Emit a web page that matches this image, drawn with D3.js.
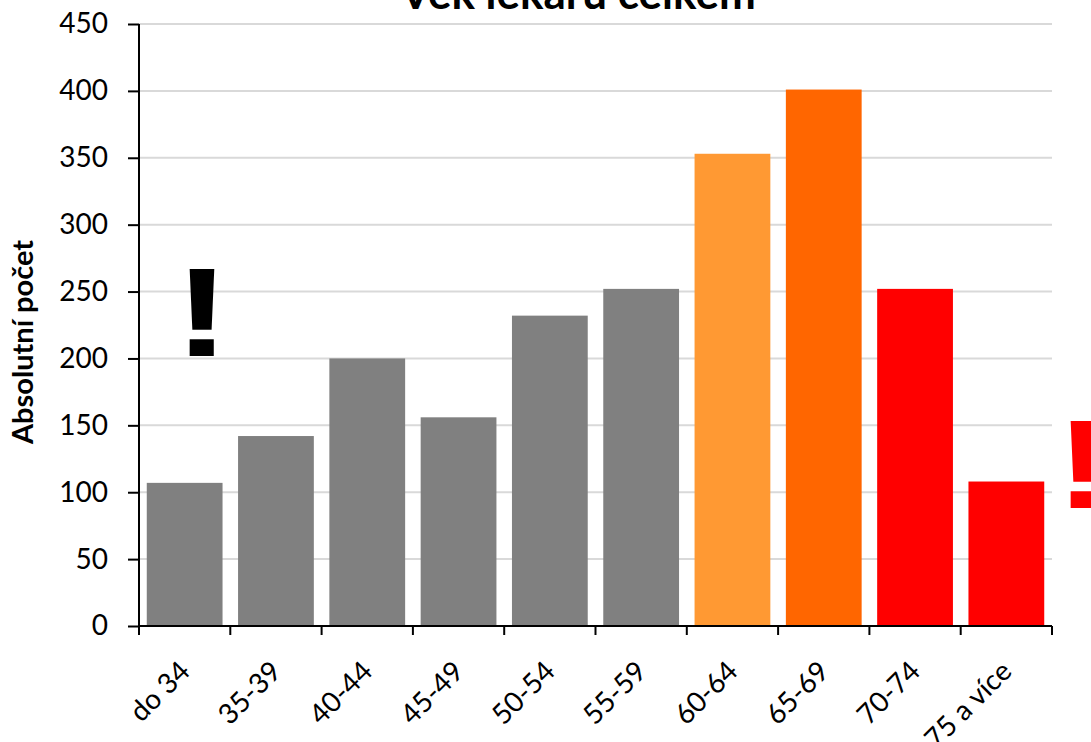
<!DOCTYPE html>
<html>
<head>
<meta charset="utf-8">
<script src="https://cdn.jsdelivr.net/npm/d3@7"></script>
<style>
  html, body { margin: 0; padding: 0; background: #fff; }
  svg { display: block; font-family: Lato, "Open Sans", sans-serif; }
</style>
</head>
<body>
<svg id="chart" width="1091" height="742"></svg>
<script>
// Age groups of physicians and their absolute counts
const categories = ["do 34", "35-39", "40-44", "45-49", "50-54", "55-59", "60-64", "65-69", "70-74", "75 a více"];
const counts = [107, 142, 200, 156, 232, 252, 353, 401, 252, 108];
const barColors = ["#808080", "#808080", "#808080", "#808080", "#808080", "#808080", "#FF9933", "#FF6600", "#FF0000", "#FF0000"];
const yTicks = [0, 50, 100, 150, 200, 250, 300, 350, 400, 450];

const titleText = "Věk lékařů celkem";
const yTitle = "Absolutní počet";

const svg = d3.select("#chart");
const margin = { top: 24, right: 39, bottom: 116, left: 139 };
const width = 1091, height = 742;
const innerW = width - margin.left - margin.right;
const innerH = height - margin.top - margin.bottom;

const g = svg.append("g").attr("transform", `translate(${margin.left},${margin.top})`);

const x = d3.scaleBand().domain(categories).range([0, innerW]).paddingInner(0.17).paddingOuter(0.085);
const y = d3.scaleLinear().domain([0, 450]).range([innerH, 0]);

// Horizontal gridlines
g.append("g").selectAll("line").data(yTicks.filter(t => t > 0)).join("line")
  .attr("x1", 0).attr("x2", innerW)
  .attr("y1", d => y(d)).attr("y2", d => y(d))
  .attr("stroke", "#d9d9d9").attr("stroke-width", 2);

// Bars
g.append("g").selectAll("rect").data(categories).join("rect")
  .attr("x", d => x(d))
  .attr("y", (d, i) => y(counts[i]))
  .attr("width", x.bandwidth())
  .attr("height", (d, i) => innerH - y(counts[i]))
  .attr("fill", (d, i) => barColors[i]);

// Y axis
const yAxis = g.append("g")
  .call(d3.axisLeft(y).tickValues(yTicks).tickSize(11).tickPadding(20).tickSizeOuter(0));
yAxis.select(".domain").attr("stroke", "#000").attr("stroke-width", 2).attr("d", `M0,${innerH + 9}V0`);
yAxis.selectAll(".tick line").attr("stroke", "#000").attr("stroke-width", 2);
yAxis.selectAll(".tick text").attr("font-size", 28).attr("fill", "#000")
  .attr("font-family", "Lato, 'Open Sans', sans-serif");

// X axis: ticks at category boundaries
const boundaries = d3.range(categories.length + 1).map(i => i * innerW / categories.length);
const xAxisG = g.append("g").attr("transform", `translate(0,${innerH})`);
xAxisG.append("line").attr("x1", 0).attr("x2", innerW).attr("stroke", "#000").attr("stroke-width", 2);
xAxisG.selectAll("line.tk").data(boundaries).join("line").attr("class", "tk")
  .attr("x1", d => d).attr("x2", d => d).attr("y1", 0).attr("y2", 9)
  .attr("stroke", "#000").attr("stroke-width", 2);
xAxisG.selectAll("text").data(categories).join("text")
  .attr("transform", d => `translate(${x(d) + x.bandwidth() / 2 + 7},${47}) rotate(-45)`)
  .attr("text-anchor", "end")
  .attr("font-size", 28)
  .attr("fill", "#000")
  .text(d => d);

// Title
svg.append("text").attr("x", 578).attr("y", 9).attr("text-anchor", "middle")
  .attr("font-size", 44).attr("font-weight", "bold").attr("fill", "#000")
  .text(titleText);

// Y axis title
svg.append("text").attr("transform", "translate(33,342) rotate(-90)")
  .attr("text-anchor", "middle").attr("font-size", 29).attr("font-weight", "bold").attr("fill", "#000")
  .text(yTitle);

// Warning marks
const bang = (cx, baseY, color) => svg.append("text")
  .attr("transform", `translate(${cx},${baseY}) scale(1.35,1)`)
  .attr("text-anchor", "middle")
  .attr("font-family", "'Liberation Sans', Arial, sans-serif")
  .attr("font-size", 127).attr("font-weight", "bold").attr("fill", color)
  .text("!");
bang(202, 356, "#000");
bang(1083, 508, "#FF0000");
</script>
</body>
</html>
